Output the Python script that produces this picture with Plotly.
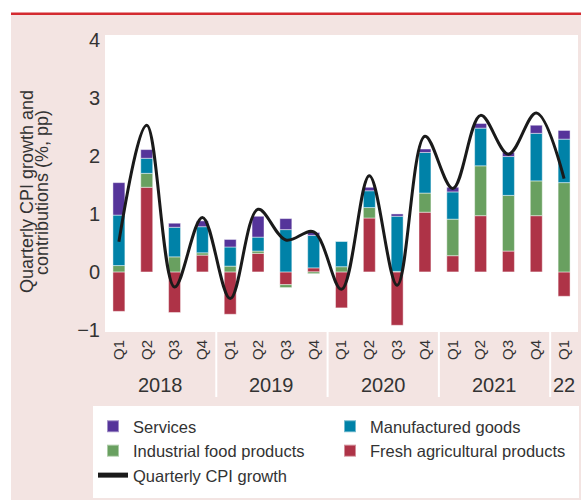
import plotly.graph_objects as go

quarters = ["Q1", "Q2", "Q3", "Q4"] * 4 + ["Q1"]
year_labels = ["2018", "2019", "2020", "2021", "22"]
year_centers = [1.5, 5.5, 9.5, 13.5, 16]
year_breaks = [3.5, 7.5, 11.5, 15.5]

fresh = [-0.68, 1.46, -0.70, 0.29, -0.73, 0.32, -0.22, 0.07, -0.62, 0.93, -0.92, 1.03, 0.28, 0.97, 0.36, 0.97, -0.42]
industrial = [0.11, 0.24, 0.26, 0.04, 0.10, 0.04, -0.05, -0.03, 0.09, 0.18, 0.01, 0.33, 0.63, 0.86, 0.96, 0.60, 1.54]
manufactured = [0.87, 0.26, 0.51, 0.45, 0.33, 0.24, 0.73, 0.56, 0.44, 0.29, 0.95, 0.70, 0.47, 0.65, 0.67, 0.82, 0.75]
services = [0.56, 0.15, 0.07, 0.10, 0.13, 0.36, 0.19, 0.05, 0.0, 0.06, 0.04, 0.06, 0.08, 0.08, 0.07, 0.14, 0.15]
cpi = [0.52, 2.53, -0.26, 0.94, -0.46, 1.08, 0.55, 0.69, -0.30, 1.66, -0.23, 2.34, 1.44, 2.70, 2.03, 2.74, 1.61]

x = list(range(len(quarters)))

FONT = "Liberation Sans Narrow, Arial Narrow, Liberation Sans, Arial, sans-serif"
TXT = "#333333"
PINK = "#F3E4E2"
edge = dict(color="rgba(255,255,255,0.45)", width=1)

fig = go.Figure()
series = [
    ("Fresh agricultural products", fresh, "#AE3347", 4),
    ("Industrial food products", industrial, "#69A060", 3),
    ("Manufactured goods", manufactured, "#0082A8", 2),
    ("Services", services, "#55349A", 1),
]
for name, vals, col, rank in series:
    fig.add_trace(go.Bar(x=x, y=vals, name=name, marker=dict(color=col, line=edge),
                         legendrank=rank))
fig.add_trace(go.Scatter(x=x, y=cpi, name="Quarterly CPI growth", mode="lines",
                         line=dict(color="#1a1a1a", width=3, shape="spline", smoothing=1),
                         legendrank=5))

W, H = 581, 500
L, R, T, B = 105, 3, 35, 168
pw, ph = W - L - R, H - T - B

def px_x(p):
    return (p - L) / pw

def px_y(p):
    return (H - B - p) / ph

shapes = [
    dict(type="rect", xref="paper", yref="paper", x0=px_x(0), x1=px_x(11), y0=px_y(H), y1=px_y(0),
         fillcolor="white", line_width=0, layer="above"),
    dict(type="rect", xref="paper", yref="paper", x0=px_x(0), x1=px_x(W), y0=px_y(13), y1=px_y(0),
         fillcolor="white", line_width=0, layer="above"),
    dict(type="line", xref="paper", yref="paper", x0=px_x(11), x1=px_x(W), y0=px_y(13.8), y1=px_y(13.8),
         line=dict(color="#D42A30", width=2.4), layer="above"),
    dict(type="rect", xref="paper", yref="paper", x0=px_x(93), x1=px_x(579), y0=px_y(498), y1=px_y(406),
         fillcolor="white", line_width=0, layer="above"),
]
for b in year_breaks:
    shapes.append(dict(type="line", xref="x", yref="paper", x0=b, x1=b, y0=0, y1=px_y(397),
                       line=dict(color="white", width=2)))

annotations = []
for lab, c in zip(year_labels, year_centers):
    annotations.append(dict(x=c, y=px_y(385), xref="x", yref="paper", text=lab, showarrow=False,
                            font=dict(family=FONT, size=20, color=TXT), xanchor="center", yanchor="middle"))
for txt, xp in [("Quarterly CPI growth and", 27), ("contributions (%, pp)", 42)]:
    annotations.append(dict(x=px_x(xp), y=px_y(192), xref="paper", yref="paper", text=txt, showarrow=False,
                            textangle=-90, font=dict(family=FONT, size=18, color=TXT),
                            xanchor="center", yanchor="middle"))

fig.update_layout(
    width=W, height=H,
    margin=dict(l=L, r=R, t=T, b=B),
    paper_bgcolor=PINK, plot_bgcolor="white",
    barmode="relative", bargap=0.57,
    showlegend=True,
    legend=dict(orientation="h", x=px_x(93), y=px_y(409), xanchor="left", yanchor="top",
                bgcolor="white", borderwidth=0, entrywidth=192, entrywidthmode="pixels",
                traceorder="normal", font=dict(family=FONT, size=16.5, color=TXT),
                itemsizing="constant", tracegroupgap=0),
    xaxis=dict(range=[-0.5, 16.5], tickvals=x, ticktext=quarters, tickangle=-90,
               showgrid=False, zeroline=False, showline=False, ticks="",
               tickfont=dict(family=FONT, size=15, color=TXT), ticklabelstandoff=4),
    yaxis=dict(range=[-1.036, 4.086], tickvals=[-1, 0, 1, 2, 3, 4], ticktext=["−1", "0", "1", "2", "3", "4"],
               showgrid=False, zeroline=False, showline=False, ticks="",
               tickfont=dict(family=FONT, size=20, color=TXT), ticklabelstandoff=4),
    shapes=shapes, annotations=annotations,
)

fig.write_html("out.html", config={"displayModeBar": False},
               post_script="document.body.style.margin='0';document.body.style.padding='0';")
